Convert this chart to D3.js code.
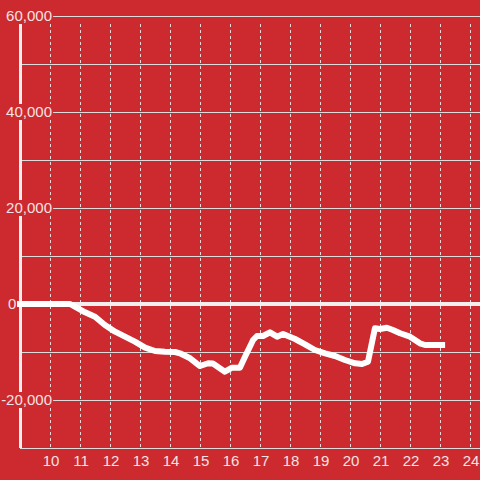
<!DOCTYPE html>
<html>
<head>
<meta charset="utf-8">
<script src="https://cdn.jsdelivr.net/npm/d3@7"></script>
<style>
  html, body { margin: 0; padding: 0; background: #cc2a2f; }
  #chart { width: 480px; height: 480px; }
  text { font-family: "Liberation Sans", Arial, sans-serif; }
</style>
</head>
<body>
<div id="chart"></div>
<script>
// data: hour of day -> value
var hours = [8.9, 10.67, 10.83, 11.17, 11.5, 11.83, 12.17, 12.5, 12.83, 13.17, 13.5, 13.83,
    14.17, 14.33, 14.67, 15.0, 15.27, 15.43, 15.83, 16.07, 16.33, 16.5, 16.77, 16.9,
    17.1, 17.33, 17.57, 17.77, 18.17, 18.5, 18.83, 19.17, 19.5, 19.83, 20.17, 20.4,
    20.6, 20.83, 21.0, 21.23, 21.43, 21.67, 22.0, 22.33, 22.5, 23.17];
var values = [0, 0, -560, -1730, -2650, -4380, -5770, -6810, -7850, -9100, -9790, -9940,
    -10000, -10270, -11310, -12920, -12350, -12400, -14100, -13270, -13270, -10980, -7500, -6670,
    -6670, -5900, -6810, -6250, -7290, -8400, -9580, -10270, -10830, -11670, -12350, -12500,
    -12020, -5060, -5210, -4940, -5420, -6100, -6810, -8190, -8540, -8540];
var xTicks = [10, 11, 12, 13, 14, 15, 16, 17, 18, 19, 20, 21, 22, 23, 24];
var yLabels = [60000, 40000, 20000, 0, -20000];
var yGrid = [60000, 50000, 40000, 30000, 20000, 10000, -10000, -20000, -30000];

var width = 480, height = 480;
var svg = d3.select('#chart')
    .append('svg')
    .attr('width', width)
    .attr('height', height);

svg.append('rect')
    .attr('width', width)
    .attr('height', height)
    .attr('fill', '#cc2a2f');

var x = d3.scaleLinear().domain([9, 24.333]).range([20, 480]);
var y = d3.scaleLinear().domain([-30000, 60000]).range([448, 16]);

// vertical dashed grid
svg.append('g').selectAll('line')
    .data(xTicks)
    .enter()
    .append('line')
    .attr('x1', function (d) { return Math.round(x(d)) + 0.5; })
    .attr('x2', function (d) { return Math.round(x(d)) + 0.5; })
    .attr('y1', 24)
    .attr('y2', 448)
    .style('stroke', '#f0d8d8')
    .style('stroke-width', 1)
    .style('stroke-dasharray', '3,3');

// horizontal grid
svg.append('g').selectAll('line')
    .data(yGrid)
    .enter()
    .append('line')
    .attr('x1', 20)
    .attr('x2', width)
    .attr('y1', function (d) { return Math.round(y(d)) + 0.5; })
    .attr('y2', function (d) { return Math.round(y(d)) + 0.5; })
    .style('stroke', '#dcdcdc')
    .style('stroke-width', 1);

// zero line
svg.append('line')
    .attr('x1', 17)
    .attr('x2', width)
    .attr('y1', y(0))
    .attr('y2', y(0))
    .style('stroke', '#f4eeee')
    .style('stroke-width', 4);

// y axis line
svg.append('line')
    .attr('x1', 20.5)
    .attr('x2', 20.5)
    .attr('y1', 24)
    .attr('y2', 448)
    .style('stroke', '#f4eeee')
    .style('stroke-width', 3);

// y labels with background boxes
var fmt = d3.format(',');
var gy = svg.append('g');
yLabels.forEach(function (v) {
    var g = gy.append('g');
    var t = g.append('text')
        .attr('x', v === 0 ? 8 : 52)
        .attr('y', y(v))
        .attr('dy', '0.36em')
        .attr('text-anchor', v === 0 ? 'start' : 'end')
        .style('font-size', '15px')
        .style('fill', '#f6e2e2')
        .text(v < 0 ? '-' + fmt(-v) : fmt(v));
    var bb = t.node().getBBox();
    g.insert('rect', 'text')
        .attr('x', bb.x - 2)
        .attr('y', y(v) - 8)
        .attr('width', bb.width + 3)
        .attr('height', 16)
        .attr('fill', '#cc2a2f');
});

// x labels
svg.append('g').selectAll('text')
    .data(xTicks)
    .enter()
    .append('text')
    .attr('x', function (d) { return x(d) + 1; })
    .attr('y', 466)
    .attr('text-anchor', 'middle')
    .style('font-size', '15px')
    .style('fill', '#f6e2e2')
    .text(function (d) { return d; });

// the series line
var dataset = d3.zip(hours, values);
var line = d3.line()
    .x(function (d) { return x(d[0]); })
    .y(function (d) { return y(d[1]); });

svg.append('path')
    .attr('d', line(dataset))
    .style('fill', 'none')
    .style('stroke', '#ffffff')
    .style('stroke-width', 6)
    .style('stroke-linejoin', 'round');
</script>
</body>
</html>
